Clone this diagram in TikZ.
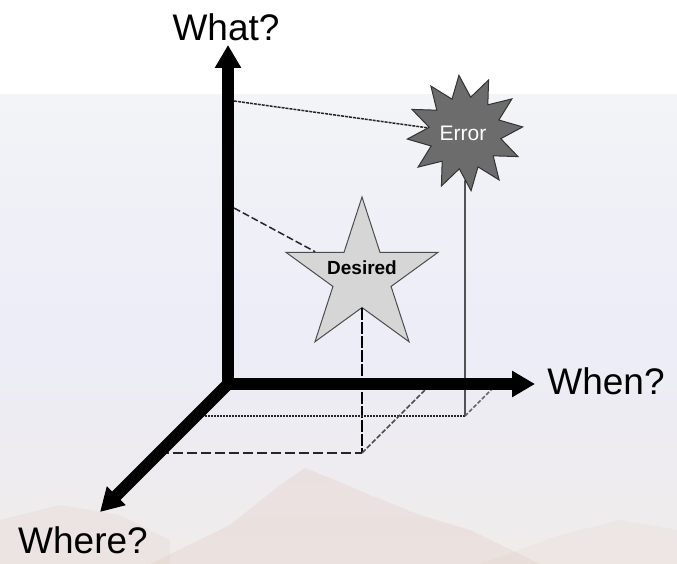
\documentclass[tikz,border=0pt]{standalone}
\usepackage{fontspec}
\setmainfont{Liberation Sans}
\usetikzlibrary{arrows.meta,shapes.geometric}
\definecolor{skyhigh}{HTML}{F3F4F7}
\definecolor{skylow}{HTML}{F0ECEB}
\definecolor{rock}{HTML}{E2CFC6}
\definecolor{errfill}{HTML}{6C6C6C}
\definecolor{desfill}{HTML}{D6D6D6}
\begin{document}
\begin{tikzpicture}[x=1pt,y=-1pt,
  axis/.style={line width=12pt,-{Triangle[length=23pt,width=25pt]}},
  axislabel/.style={font=\fontsize{37}{40}\selectfont},
  proj/.style={line width=1.5pt,black!85}]
\useasboundingbox (0,0) rectangle (677,564);
% background: sky and hills
\fill[white] (0,0) rectangle (677,95);
\shade[top color=skyhigh,bottom color=skylow,middle color=skyhigh!97!blue] (0,95) rectangle (677,564);
\fill[rock,opacity=0.35] (150,564) -- (230,525) -- (280,485) -- (305,468) -- (330,478)
  -- (370,495) -- (420,515) -- (470,530) -- (540,564) -- cycle;
\fill[rock,opacity=0.25] (0,520) -- (60,505) -- (120,515) -- (170,540) -- (170,564) -- (0,564) -- cycle;
\fill[rock,opacity=0.2] (480,564) -- (560,535) -- (620,520) -- (677,530) -- (677,564) -- cycle;

% axes
\coordinate (o) at (228,384);
\coordinate (whattip) at (228,45);
\coordinate (whentip) at (535,384);
\coordinate (wheretip) at (100,512);
\node[axislabel] (what) at (226,27) {What?};
\node[axislabel] (when) at (606,381) {When?};
\node[axislabel] (where) at (83,540) {Where?};

% marks on the axes
\coordinate (errmark) at (234,101);
\coordinate (desmark) at (234,208);
\coordinate (errfoot) at (465,416);
\coordinate (desfoot) at (362,453);
\coordinate (errwhere) at (196,416);
\coordinate (deswhere) at (159,453);
\coordinate (errwhen) at (497,384);
\coordinate (deswhen) at (431,384);

% the two points
\node[shape=star,star points=12,star point ratio=1.6,minimum size=116pt,inner sep=0pt,
  fill=errfill,draw=black!80,line width=1pt,rotate=6] (error) at (465,133) {};
\node[text=white,font=\fontsize{21}{24}\selectfont] (errtext) at (463,133) {Error};
\node[shape=star,star points=5,star point ratio=2.618,minimum size=160pt,inner sep=0pt,
  fill=desfill,draw=black!70,line width=1pt] (desired) at (362,277) {};
\node[font=\bfseries\fontsize{19}{22}\selectfont] (destext) at (362,268) {Desired};

% projections
\draw[proj,dash pattern=on 3pt off 1pt] (errmark) -- (error);
\draw[proj,dash pattern=on 7pt off 3pt] (desmark) -- (desired);
\draw[line width=1.2pt] (error) -- (errfoot);
\draw[line width=1.2pt,dash pattern=on 12pt off 2pt] (desired) -- (desfoot);
\draw[proj,dash pattern=on 2pt off 1pt] (errwhere) -- (errfoot);
\draw[proj,dash pattern=on 10pt off 4pt] (deswhere) -- (desfoot);
\draw[proj,black!60,dash pattern=on 4pt off 2pt] (errfoot) -- (errwhen);
\draw[proj,black!70,dash pattern=on 5pt off 2pt] (desfoot) -- (deswhen);

\draw[axis] (228,390) -- (whattip);
\draw[axis] (222,384) -- (whentip);
\draw[axis] (232,380) -- (wheretip);
\end{tikzpicture}
\end{document}
